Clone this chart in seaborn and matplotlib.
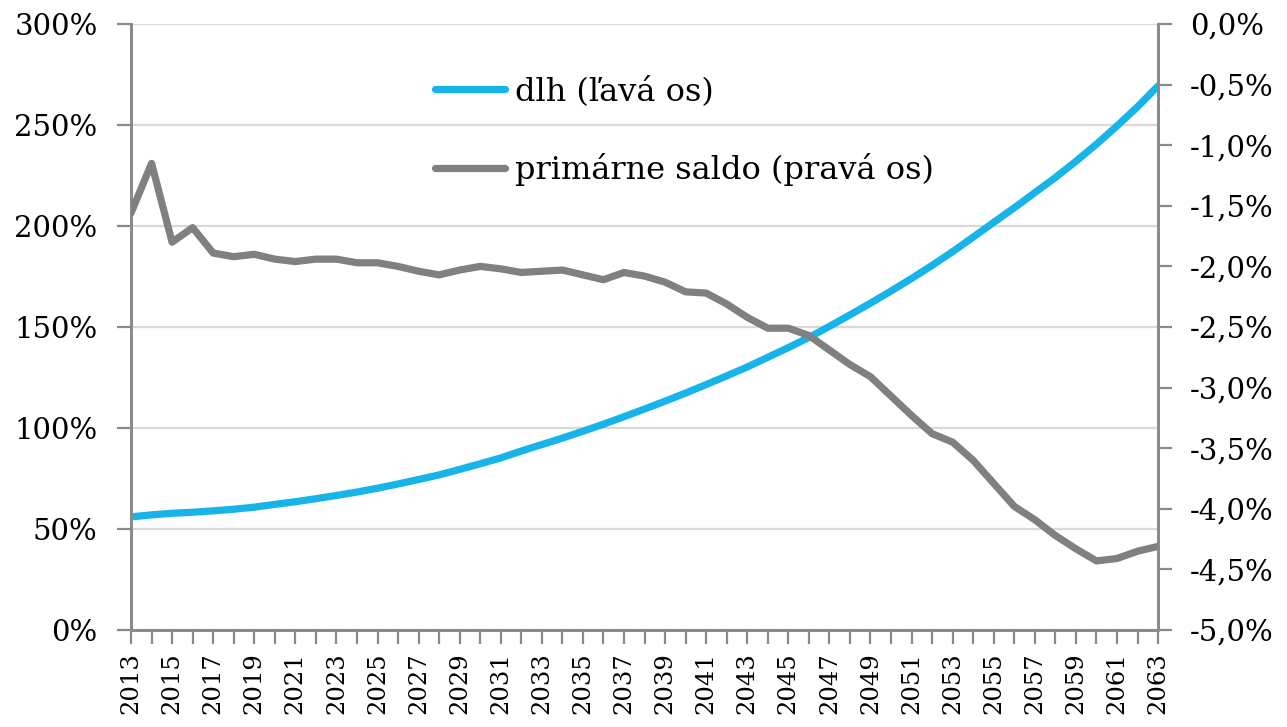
"""Vývoj dlhu a primárneho salda do roku 2063 (dve osi)."""

import matplotlib.pyplot as plt
import pandas as pd
import seaborn as sns
from matplotlib.ticker import FuncFormatter, MultipleLocator

sns.set_theme(style="white")
plt.rcParams["font.family"] = ["DejaVu Serif", "DejaVu Sans"]
plt.rcParams["text.color"] = "black"

years = list(range(2013, 2064))

# dlh v % HDP (ľavá os)
debt = [
    56.0, 57.0, 57.8, 58.3, 59.0, 59.8, 60.8, 62.2, 63.5, 65.0,
    66.6, 68.3, 70.2, 72.3, 74.5, 76.8, 79.5, 82.3, 85.2, 88.6,
    91.8, 95.0, 98.4, 101.9, 105.6, 109.4, 113.3, 117.3, 121.5, 125.8,
    130.2, 135.0, 139.8, 144.8, 150.3, 156.0, 161.8, 167.8, 174.0, 180.5,
    187.3, 194.5, 201.8, 209.0, 216.5, 224.0, 232.0, 240.5, 249.5, 259.0,
    269.3,
]

# primárne saldo v % HDP (pravá os)
balance = [
    -1.56, -1.15, -1.80, -1.68, -1.89, -1.92, -1.90, -1.94, -1.96, -1.94,
    -1.94, -1.97, -1.97, -2.00, -2.04, -2.07, -2.03, -2.00, -2.02, -2.05,
    -2.04, -2.03, -2.07, -2.11, -2.05, -2.08, -2.13, -2.21, -2.22, -2.31,
    -2.42, -2.51, -2.51, -2.57, -2.69, -2.81, -2.91, -3.07, -3.23, -3.38,
    -3.45, -3.60, -3.79, -3.98, -4.09, -4.22, -4.33, -4.43, -4.41, -4.35,
    -4.31,
]

labels = ["dlh (ľavá os)", "primárne saldo (pravá os)"]

df = pd.DataFrame({"rok": years, "dlh": debt, "saldo": balance})

BLUE = "#16b4e9"
GREY = "#808080"
AXIS = "#8a8a8a"

fig = plt.figure(figsize=(12.87, 7.27), dpi=100)
ax = fig.add_axes([0.1018, 0.1334, 0.798, 0.8336])
ax2 = ax.twinx()

sns.lineplot(data=df, x="rok", y="dlh", ax=ax, color=BLUE, linewidth=5.2,
             label=labels[0], legend=False, zorder=3)
sns.lineplot(data=df, x="rok", y="saldo", ax=ax2, color=GREY, linewidth=5.2,
             label=labels[1], legend=False, zorder=3)

ax.set_xlim(2013, 2063)
ax.set_ylim(0, 300)
ax2.set_ylim(-5.0, 0.0)

ax.yaxis.set_major_locator(MultipleLocator(50))
ax.yaxis.set_major_formatter(FuncFormatter(lambda v, _: f"{v:.0f}%"))
ax2.yaxis.set_major_locator(MultipleLocator(0.5))
ax2.yaxis.set_major_formatter(
    FuncFormatter(lambda v, _: f"{v:.1f}%".replace(".", ",").replace("-0,0", "0,0"))
)

ax.set_xticks(years)
ax.set_xticklabels([str(y) if (y - 2013) % 2 == 0 else "" for y in years],
                   rotation=90)

ax.grid(axis="y", color="#d9d9d9", linewidth=1.6)
ax.set_axisbelow(True)
ax.set_xlabel("")
ax.set_ylabel("")
ax2.set_ylabel("")

for a in (ax, ax2):
    for side, sp in a.spines.items():
        sp.set_color(AXIS)
        sp.set_linewidth(2)
    a.spines["top"].set_visible(False)
    a.tick_params(colors=AXIS, labelcolor="black", width=1.6, length=10)
ax.tick_params(axis="y", labelsize=21, pad=14)
ax2.tick_params(axis="y", labelsize=21, pad=13)
ax.tick_params(axis="x", labelsize=17.5, pad=6)
ax.tick_params(axis="both", direction="out", left=True, bottom=True)
ax2.tick_params(axis="y", direction="out", right=True)

handles = ax.get_lines()[:1] + ax2.get_lines()[:1]
ax.legend(handles, labels, loc="upper left", bbox_to_anchor=(0.268, 0.962),
          frameon=False, fontsize=23, handlelength=2.2, labelspacing=1.45,
          handletextpad=0.3, labelcolor="black")

fig.savefig("out.png", dpi=100)
